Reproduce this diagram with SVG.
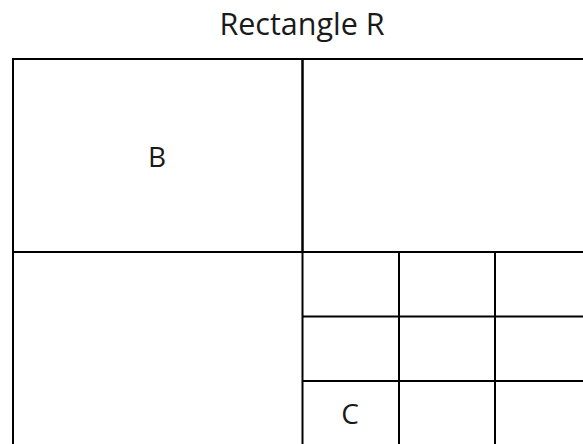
<svg xmlns="http://www.w3.org/2000/svg" width="583" height="444" viewBox="0 0 583 444">
<style>
.c{fill:none;stroke:#000;stroke-width:2}
.t{font-family:"Open Sans","Noto Sans",sans-serif;fill:#1a1a1a;text-anchor:middle}
</style>
<rect width="583" height="444" fill="#fff"/>
<g id="title"><text class="t" x="302" y="35" font-size="30.5">Rectangle R</text></g>
<g id="R"><rect class="c" x="13" y="59" width="600" height="420"/></g>
<g id="B"><rect class="c" x="13" y="59" width="289.5" height="193"/><text class="t" x="157" y="167" font-size="28">B</text></g>
<g id="topright"><rect class="c" x="302.5" y="59" width="300" height="193"/></g>
<g id="bottomleft"><rect class="c" x="13" y="252" width="289.5" height="220"/></g>
<g id="grid">
<line class="c" x1="302.5" y1="316.5" x2="583" y2="316.5"/>
<line class="c" x1="302.5" y1="381" x2="583" y2="381"/>
<line class="c" x1="399" y1="252" x2="399" y2="444"/>
<line class="c" x1="495" y1="252" x2="495" y2="444"/>
</g>
<g id="C"><text class="t" x="350" y="424" font-size="28">C</text></g>
</svg>
